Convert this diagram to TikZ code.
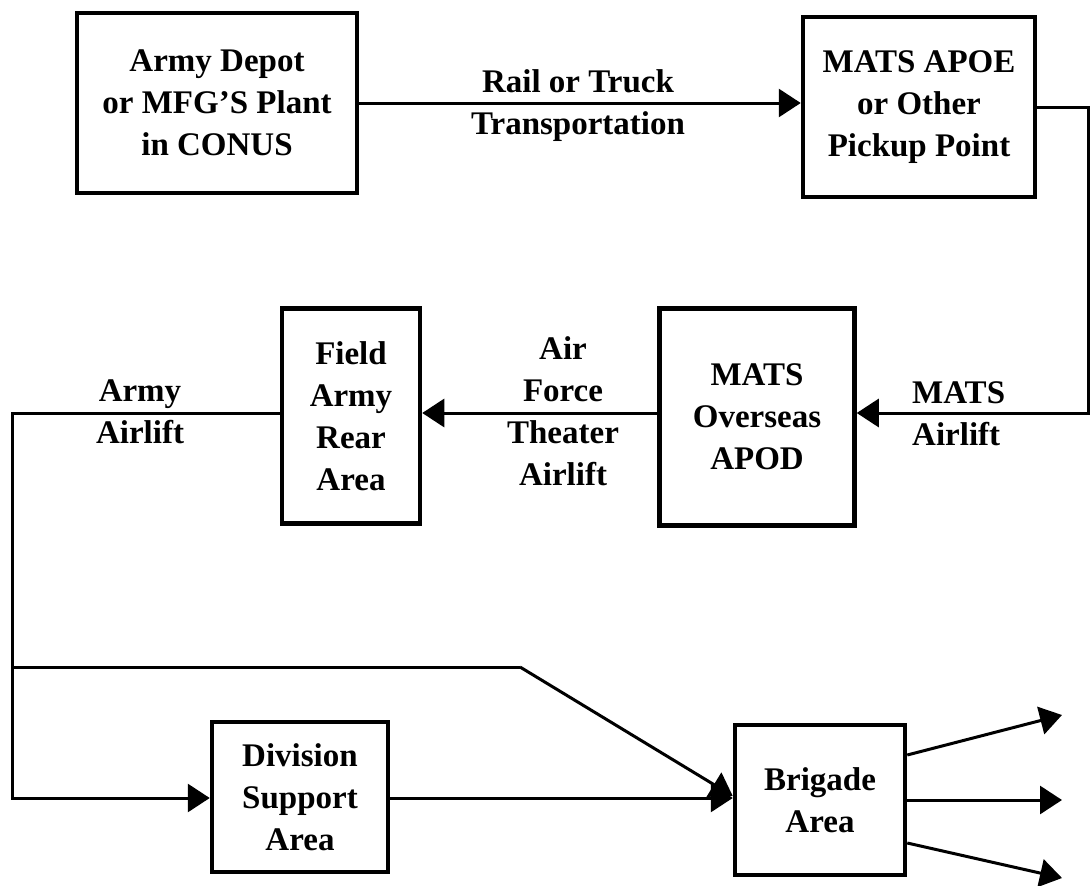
\documentclass[tikz,border=0pt]{standalone}
\usepackage{fontspec}
\setmainfont{Liberation Serif}
\usetikzlibrary{arrows.meta}
\begin{document}
\begin{tikzpicture}[x=1pt,y=-1pt,
  box/.style={draw,line width=4.5pt,align=center,inner sep=0pt,font=\fontsize{33}{42}\selectfont\bfseries},
  lbl/.style={align=center,inner sep=0pt,font=\fontsize{33}{42}\selectfont\bfseries},
  conn/.style={line width=3pt},
  arr/.style={conn,-{Triangle[length=22pt,width=28pt]}}]
\useasboundingbox (0,0) rectangle (1090,886);
\node[box,minimum width=280pt,minimum height=180pt] (depot) at (217,103) {Army Depot\\or MFG'S Plant\\in CONUS};
\node[box,minimum width=232pt,minimum height=180pt] (apoe) at (919,107) {MATS APOE\\or Other\\Pickup Point};
\node[box,minimum width=195pt,minimum height=217pt] (apod) at (757,417) {MATS\\Overseas\\APOD};
\node[box,minimum width=138pt,minimum height=215pt] (rear) at (351,416) {Field\\Army\\Rear\\Area};
\node[box,minimum width=176pt,minimum height=150pt] (div) at (300,797) {Division\\Support\\Area};
\node[box,minimum width=170pt,minimum height=150pt] (brig) at (820,800) {Brigade\\Area};

\node[lbl] (l1) at (578,106) {Rail or Truck\\Transportation};
\node[lbl,align=left,anchor=west] (l2) at (912,414) {MATS\\Airlift};
\node[lbl] (l3) at (563,411) {Air\\Force\\Theater\\Airlift};
\node[lbl] (l4) at (140,412) {Army\\Airlift};

\coordinate (r1) at (1088,107);
\coordinate (r2) at (1088,413);
\coordinate (c1) at (12,413);
\coordinate (c2) at (12,798);
\coordinate (c3) at (12,667);
\coordinate (c4) at (520,667);
\coordinate (o1) at (1062,715);
\coordinate (o2) at (1062,800);
\coordinate (o3) at (1062,878);

\draw[arr] (depot.east) -- (apoe.west |- depot.east);
\draw[arr] (apoe.east) -- (r1) -- (r2) -- (apod.east |- r2);
\draw[arr] (apod.west |- r2) -- (rear.east |- r2);
\draw[arr] (rear.west |- r2) -- (c1) -- (c2) -- (div.west |- c2);
\draw[conn] (c3) -- (c4);
\draw[arr] (c4) -- ([yshift=4pt]brig.west);
\draw[arr] (div.east |- c2) -- (brig.west |- c2);
\draw[arr] ([yshift=45pt]brig.east) -- (o1);
\draw[arr] (brig.east) -- (o2);
\draw[arr] ([yshift=-43pt]brig.east) -- (o3);
\end{tikzpicture}
\end{document}
